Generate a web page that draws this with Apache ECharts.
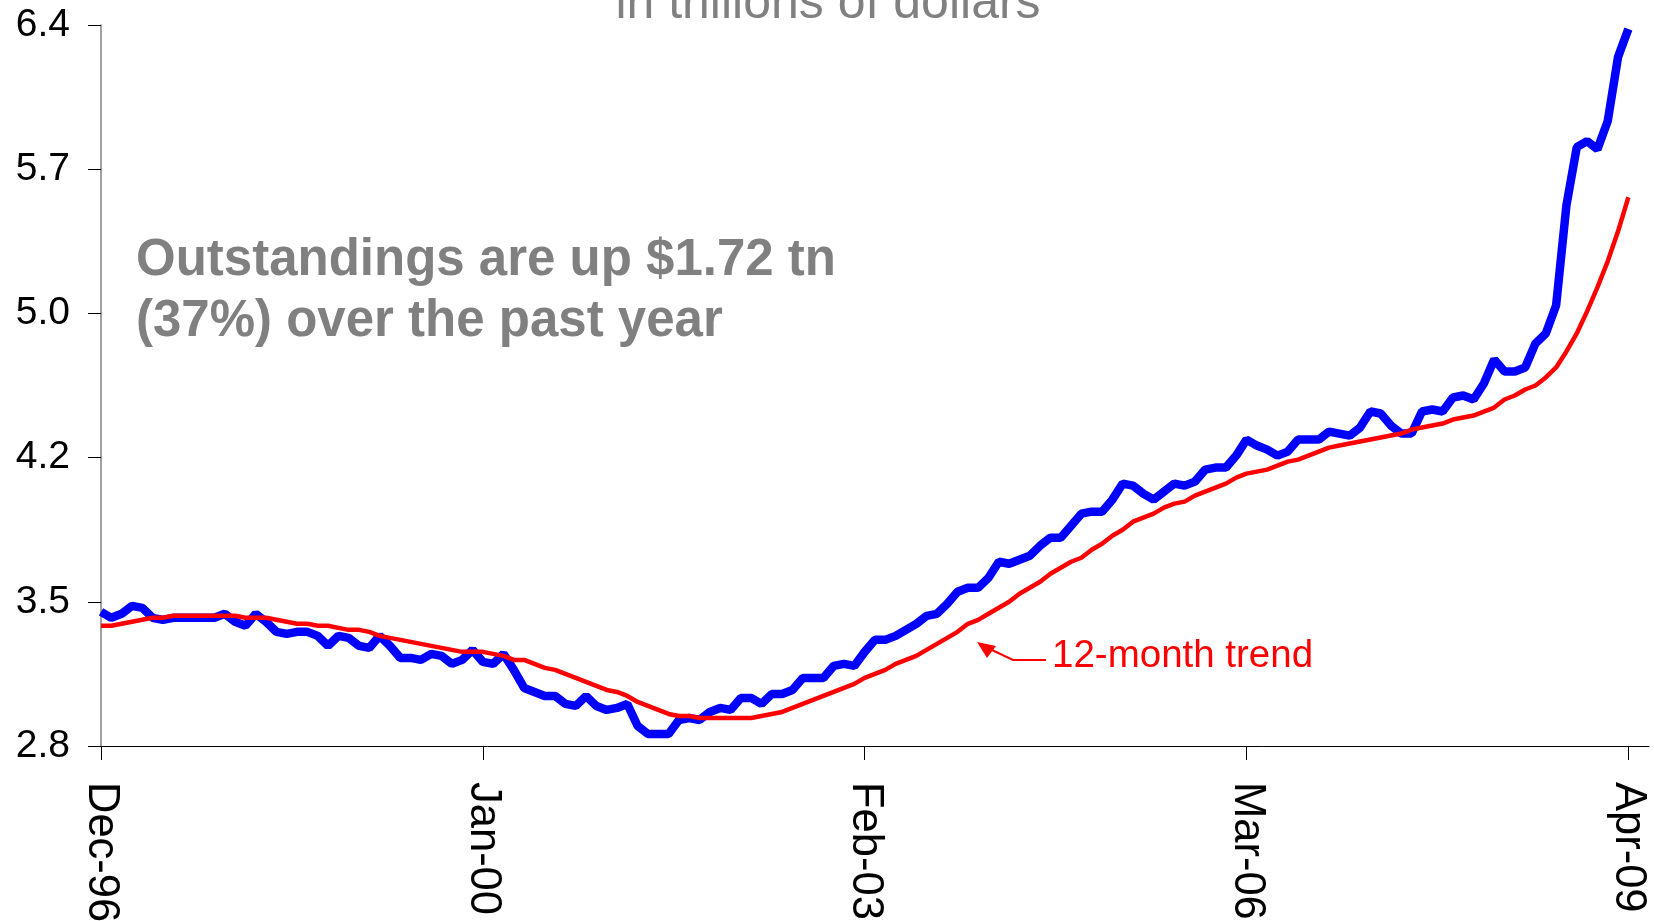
<!DOCTYPE html>
<html>
<head>
<meta charset="utf-8">
<title>Outstandings</title>
<script src="https://cdn.jsdelivr.net/npm/echarts@6/dist/echarts.min.js"></script>
<style>
  html, body { margin: 0; padding: 0; background: #fff; }
  #chart { width: 1654px; height: 921px; }
</style>
</head>
<body>
<div id="chart"></div>
<script>
// months run from Dec-96; the axis ends two months after the last point
const monthNames = ['Jan', 'Feb', 'Mar', 'Apr', 'May', 'Jun', 'Jul', 'Aug', 'Sep', 'Oct', 'Nov', 'Dec'];
const firstYear = 1996;
const firstMonth = 11;
const monthCount = 151;

// outstandings, trillions of dollars (monthly, Dec-96 .. Apr-09)
const outstandings = [
  3.47, 3.44, 3.46, 3.50, 3.49, 3.44, 3.43, 3.44, 3.44, 3.44,
  3.44, 3.44, 3.46, 3.42, 3.40, 3.46, 3.42, 3.37, 3.36, 3.37,
  3.37, 3.35, 3.30, 3.35, 3.34, 3.30, 3.29, 3.35, 3.30, 3.24,
  3.24, 3.23, 3.26, 3.25, 3.21, 3.23, 3.28, 3.22, 3.21, 3.26,
  3.18, 3.09, 3.07, 3.05, 3.05, 3.01, 3.00, 3.05, 3.00, 2.98,
  2.99, 3.01, 2.90, 2.86, 2.86, 2.86, 2.93, 2.94, 2.93, 2.97,
  2.99, 2.98, 3.04, 3.04, 3.01, 3.06, 3.06, 3.08, 3.14, 3.14,
  3.14, 3.20, 3.21, 3.20, 3.27, 3.33, 3.33, 3.35, 3.38, 3.41,
  3.45, 3.46, 3.51, 3.57, 3.59, 3.59, 3.64, 3.72, 3.71, 3.73,
  3.75, 3.80, 3.84, 3.84, 3.90, 3.96, 3.97, 3.97, 4.03, 4.11,
  4.10, 4.06, 4.03, 4.07, 4.11, 4.10, 4.12, 4.18, 4.19, 4.19,
  4.25, 4.33, 4.30, 4.28, 4.25, 4.27, 4.33, 4.33, 4.33, 4.37,
  4.36, 4.35, 4.39, 4.47, 4.46, 4.40, 4.36, 4.36, 4.47, 4.48,
  4.47, 4.54, 4.55, 4.53, 4.61, 4.73, 4.67, 4.67, 4.69, 4.81,
  4.86, 5.00, 5.50, 5.79, 5.82, 5.78, 5.92, 6.24, 6.38
];

// 12-month trend
const trend = [
  3.40, 3.40, 3.41, 3.42, 3.43, 3.44, 3.44, 3.45, 3.45, 3.45,
  3.45, 3.45, 3.45, 3.45, 3.44, 3.44, 3.44, 3.43, 3.42, 3.41,
  3.41, 3.40, 3.40, 3.39, 3.38, 3.38, 3.37, 3.35, 3.34, 3.33,
  3.32, 3.31, 3.30, 3.29, 3.28, 3.27, 3.27, 3.27, 3.26, 3.25,
  3.23, 3.23, 3.21, 3.19, 3.18, 3.16, 3.14, 3.12, 3.10, 3.08,
  3.07, 3.05, 3.02, 3.00, 2.98, 2.96, 2.95, 2.95, 2.94, 2.94,
  2.94, 2.94, 2.94, 2.94, 2.95, 2.96, 2.97, 2.99, 3.01, 3.03,
  3.05, 3.07, 3.09, 3.11, 3.14, 3.16, 3.18, 3.21, 3.23, 3.25,
  3.28, 3.31, 3.34, 3.37, 3.41, 3.43, 3.46, 3.49, 3.52, 3.56,
  3.59, 3.62, 3.66, 3.69, 3.72, 3.74, 3.78, 3.81, 3.85, 3.88,
  3.92, 3.94, 3.96, 3.99, 4.01, 4.02, 4.05, 4.07, 4.09, 4.11,
  4.14, 4.16, 4.17, 4.18, 4.20, 4.22, 4.23, 4.25, 4.27, 4.29,
  4.30, 4.31, 4.32, 4.33, 4.34, 4.35, 4.36, 4.38, 4.39, 4.40,
  4.41, 4.43, 4.44, 4.45, 4.47, 4.49, 4.53, 4.55, 4.58, 4.60,
  4.64, 4.69, 4.77, 4.86, 4.97, 5.09, 5.22, 5.37, 5.54
];

const yTicks = [2.8, 3.52, 4.24, 4.96, 5.68, 6.4];

const categories = [];
for (let i = 0; i < monthCount; i++) {
  const m = (firstMonth + i) % 12;
  const y = firstYear + Math.floor((firstMonth + i) / 12);
  categories.push(monthNames[m] + '-' + String(y % 100).padStart(2, '0'));
}

const FONT = '"Liberation Sans", Arial, sans-serif';

const chart = echarts.init(document.getElementById('chart'));

chart.setOption({
  animation: false,
  grid: { left: 101, right: 5, top: 25, bottom: 175, containLabel: false, outerBoundsMode: 'none' },
  xAxis: {
    type: 'category',
    data: categories,
    boundaryGap: false,
    axisLine: { lineStyle: { color: '#000', width: 1 } },
    axisTick: { interval: 36, length: 14, lineStyle: { color: '#000' } },
    axisLabel: {
      interval: 36,
      rotate: -90,
      margin: 36,
      color: '#000',
      fontFamily: FONT,
      fontSize: 43.5
    },
    splitLine: { show: false }
  },
  yAxis: {
    type: 'value',
    min: 2.8,
    max: 6.4,
    axisLine: { show: true, lineStyle: { color: '#808080', width: 1.5 } },
    axisTick: { show: true, length: 13, customValues: yTicks, lineStyle: { color: '#000' } },
    axisLabel: {
      customValues: yTicks,
      margin: 31,
      color: '#000',
      fontFamily: FONT,
      fontSize: 39,
      formatter: v => v.toFixed(1)
    },
    splitLine: { show: false }
  },
  series: [
    {
      name: 'Outstandings',
      type: 'line',
      data: outstandings,
      showSymbol: false,
      lineStyle: { color: '#0000FF', width: 8.5 },
      z: 2
    },
    {
      name: '12-month trend',
      type: 'line',
      data: trend,
      showSymbol: false,
      lineStyle: { color: '#FF0000', width: 4.5 },
      z: 3
    }
  ],
  graphic: [
    {
      type: 'text',
      x: 828, y: 4,
      style: {
        text: 'in trillions of dollars',
        font: '50px ' + FONT,
        fill: '#808080',
        align: 'center',
        verticalAlign: 'middle'
      }
    },
    {
      type: 'text',
      x: 136, y: 261,
      style: {
        text: 'Outstandings are up $1.72 tn',
        font: 'bold 51px ' + FONT,
        fill: '#808080',
        verticalAlign: 'middle'
      }
    },
    {
      type: 'text',
      x: 136, y: 322,
      style: {
        text: '(37%) over the past year',
        font: 'bold 51px ' + FONT,
        fill: '#808080',
        verticalAlign: 'middle'
      }
    },
    {
      type: 'text',
      x: 1052, y: 656,
      style: {
        text: '12-month trend',
        font: '38.5px ' + FONT,
        fill: '#FF0000',
        verticalAlign: 'middle'
      }
    },
    {
      type: 'polyline',
      shape: { points: [[1046, 660], [1013, 660], [992, 650]] },
      style: { stroke: '#FF0000', lineWidth: 2, fill: null }
    },
    {
      type: 'polygon',
      shape: { points: [[977, 642], [987, 658], [996, 646]] },
      style: { fill: '#FF0000' }
    }
  ]
});
</script>
</body>
</html>
